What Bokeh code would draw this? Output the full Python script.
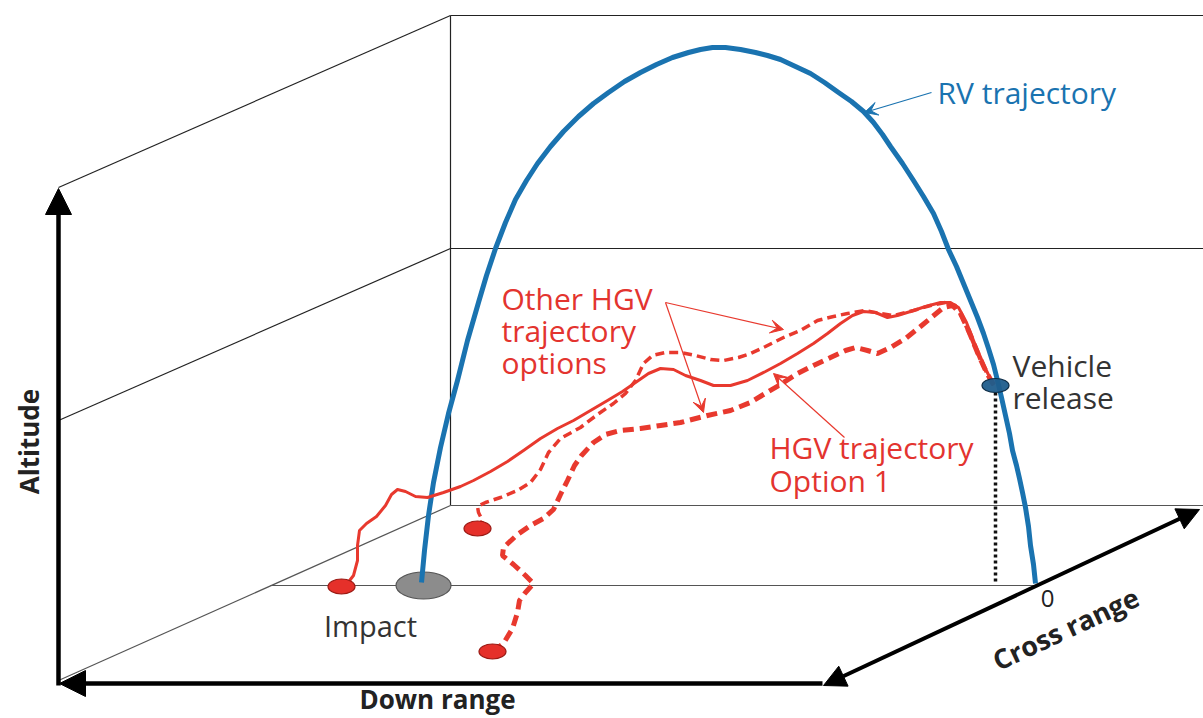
from bokeh.plotting import figure
from bokeh.models import Range1d, Arrow, NormalHead, VeeHead
from bokeh.core.properties import value
from bokeh.embed import file_html
from bokeh.resources import INLINE

# ---- data (screen-pixel coordinates, y downwards) ----
rv_x = [421, 424, 428, 433, 440, 448, 457, 467, 478, 486, 495, 505, 515, 526, 537, 550, 563, 578, 593, 608,
        624, 640, 656, 672, 688, 700, 712, 725, 740, 755, 767, 780, 795, 810, 824, 838, 851, 863, 873, 882,
        890, 902, 913, 923, 933, 941, 948, 956, 963, 970, 977, 983, 988, 993, 997, 1001, 1005, 1009, 1012,
        1016, 1019, 1022, 1025, 1028, 1030, 1033, 1035]
rv_y = [582, 550, 515, 482, 447, 413, 380, 340, 302, 275, 248, 222, 199, 180, 163, 146, 131, 116, 103, 92,
        81, 72, 64, 57, 52, 49, 47, 47, 49, 52, 55, 59, 66, 73, 82, 92, 101, 111, 122, 134,
        146, 163, 180, 196, 213, 231, 249, 266, 283, 300, 317, 333, 348, 364, 380, 397, 415, 433, 450,
        465, 478, 492, 507, 526, 545, 564, 583]

opt1_x = [341, 346, 353, 357, 357, 359, 366, 376, 385, 391, 397, 405, 415, 427, 443, 460, 473, 490, 507, 523,
          540, 557, 573, 590, 607, 622, 635, 648, 660, 673, 685, 700, 713, 730, 747, 765, 780, 797, 813, 827,
          840, 852, 863, 875, 887, 897, 910, 925, 940, 950, 958, 966, 975, 985, 993]
opt1_y = [586, 584, 575, 560, 545, 530, 523, 516, 505, 494, 489, 491, 496, 497, 492, 486, 480, 471, 461, 450,
          438, 428, 420, 410, 400, 391, 382, 373, 368, 369, 375, 380, 385, 385, 380, 371, 363, 353, 343, 333,
          323, 315, 311, 312, 317, 315, 311, 306, 302, 302, 307, 322, 345, 368, 385]

optA_x = [477, 482, 478, 477, 485, 500, 517, 530, 540, 548, 560, 580, 597, 613, 625, 635, 643, 652, 665, 680,
          695, 710, 723, 738, 750, 765, 783, 800, 817, 833, 847, 865, 880, 893, 913, 930, 945, 955, 962, 970,
          980, 990, 995]
optA_y = [528, 520, 512, 506, 502, 497, 490, 482, 469, 452, 438, 427, 414, 403, 393, 380, 363, 355, 352, 352,
          355, 359, 360, 357, 353, 346, 337, 330, 320, 316, 313, 310, 313, 315, 310, 305, 302, 305, 318, 336,
          360, 380, 386]

optB_x = [492, 503, 512, 517, 519, 525, 533, 525, 513, 502, 503, 517, 530, 543, 553, 560, 567, 574, 581, 593,
          605, 620, 640, 660, 680, 707, 730, 750, 763, 780, 797, 813, 830, 845, 855, 867, 877, 890, 905, 920,
          932, 943, 952, 960, 968, 977, 986, 994]
optB_y = [651, 643, 628, 612, 600, 592, 583, 575, 564, 555, 547, 534, 525, 518, 509, 494, 480, 465, 455, 442,
          434, 430, 428, 425, 422, 415, 410, 402, 394, 384, 373, 365, 357, 350, 347, 350, 353, 347, 338, 326,
          316, 307, 305, 313, 330, 352, 372, 386]

end_x = [341, 477, 492]
end_y = [586, 528, 651]

impact_x, impact_y = 423, 585
release_x, release_y = 995, 385

# ---- figure ----
W, H = 1203, 718
p = figure(width=W, height=H, x_range=Range1d(0, W), y_range=Range1d(H, 0),
           output_backend="svg", toolbar_location=None, min_border=0,
           x_axis_location=None, y_axis_location=None)
p.xgrid.visible = False
p.ygrid.visible = False
p.outline_line_color = None
p.background_fill_color = "white"

# box / perspective lines
p.segment(x0=[58, 450, 58, 450, 450], y0=[187, 15, 420, 248, 15],
          x1=[450, 1203, 450, 1203, 450], y1=[15, 15, 248, 248, 505],
          line_color="#222222", line_width=1.2)
p.segment(x0=[58, 450, 270], y0=[680, 505, 585], x1=[450, 1203, 1035], y1=[505, 505, 585],
          line_color="#555555", line_width=1.2)

# axes arrows
p.add_layout(Arrow(end=NormalHead(size=26, fill_color="black", line_color="black"),
                   x_start=58, y_start=685, x_end=58, y_end=188, line_width=4.5, line_color="black"))
p.add_layout(Arrow(end=NormalHead(size=26, fill_color="black", line_color="black"),
                   x_start=822, y_start=683, x_end=59, y_end=683, line_width=4.5, line_color="black"))
p.add_layout(Arrow(start=NormalHead(size=22, fill_color="black", line_color="black"),
                   end=NormalHead(size=22, fill_color="black", line_color="black"),
                   x_start=823, y_start=685, x_end=1199, y_end=509, line_width=4, line_color="black"))

# dotted drop line from vehicle release
p.line([995, 995], [392, 583], line_color="#111111", line_width=3.5, line_dash="3 3")

# impact ellipse, then RV trajectory on top
p.ellipse(x=impact_x, y=impact_y, width=55, height=27, fill_color="#8c8c8c", line_color="#555555", line_width=1.2)
p.line(rv_x, rv_y, line_color="#1a73b0", line_width=5, line_join="round")

# HGV trajectories
red = "#e8392e"
p.line(optB_x, optB_y, line_color=red, line_width=5, line_dash="11 6")
p.line(optA_x, optA_y, line_color=red, line_width=3.5, line_dash="9 5")
p.line(opt1_x, opt1_y, line_color=red, line_width=3, line_join="round")

# end points and release
p.ellipse(x=end_x, y=end_y, width=27, height=15, fill_color="#e5302a", line_color="#9a1a14", line_width=1.2)
p.ellipse(x=release_x, y=release_y, width=27, height=14, fill_color="#1f5d8c", line_color="#0c2b44",
          line_width=1.2, fill_alpha=0.95)

# annotation arrows
p.add_layout(Arrow(end=VeeHead(size=13, fill_color="#1a73b0", line_color="#1a73b0"),
                   x_start=931, y_start=92, x_end=864, y_end=112, line_width=1.3, line_color="#1a73b0"))
for xe, ye in [(783, 329), (703, 412)]:
    p.add_layout(Arrow(end=VeeHead(size=13, fill_color=red, line_color=red),
                       x_start=665, y_start=302, x_end=xe, y_end=ye, line_width=1.2, line_color=red))
p.add_layout(Arrow(end=VeeHead(size=13, fill_color=red, line_color=red),
                   x_start=844, y_start=437, x_end=773, y_end=373, line_width=1.2, line_color=red))

# labels
font = value("Open Sans")
p.text(x=[937], y=[92], text=["RV trajectory"], text_font=font, text_font_size="30px",
       text_color="#1a73b0", text_baseline="middle", text_align="left")
p.text(x=[501, 501, 501], y=[298, 330, 362], text=["Other HGV", "trajectory", "options"],
       text_font=font, text_font_size="30px", text_color="#e3342f", text_baseline="middle", text_align="left")
p.text(x=[769, 769], y=[447, 480], text=["HGV trajectory", "Option 1"],
       text_font=font, text_font_size="30px", text_color="#e3342f", text_baseline="middle", text_align="left")
p.text(x=[1012, 1012], y=[365, 397], text=["Vehicle", "release"],
       text_font=font, text_font_size="30px", text_color="#333333", text_baseline="middle", text_align="left")
p.text(x=[370], y=[625], text=["Impact"], text_font=font, text_font_size="29px",
       text_color="#333333", text_baseline="middle", text_align="center")
p.text(x=[1047], y=[598], text=["0"], text_font=font, text_font_size="24px",
       text_color="#222222", text_baseline="middle", text_align="center")
p.text(x=[437], y=[698], text=["Down range"], text_font=font, text_font_size="26px", text_font_style="bold",
       text_color="#222222", text_baseline="middle", text_align="center")
p.text(x=[28], y=[441], text=["Altitude"], text_font=font, text_font_size="26px", text_font_style="bold",
       text_color="#222222", text_baseline="middle", text_align="center", angle=90, angle_units="deg")
p.text(x=[1065], y=[628], text=["Cross range"], text_font=font, text_font_size="27px", text_font_style="bold",
       text_color="#222222", text_baseline="middle", text_align="center", angle=25, angle_units="deg")

open("out.html", "w").write(file_html(p, INLINE))
